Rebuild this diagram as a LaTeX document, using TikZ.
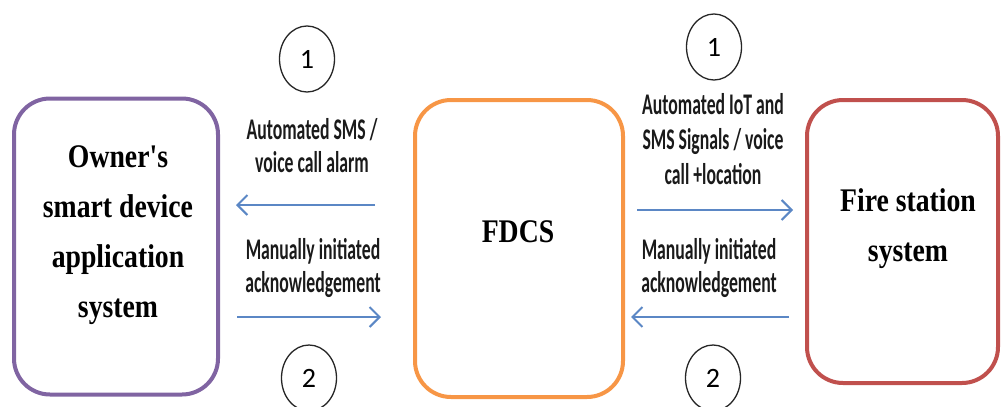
\documentclass[tikz,border=0pt]{standalone}
\usepackage{fontspec}
\usetikzlibrary{arrows.meta,shapes.geometric}
\newfontfamily\boxfont[FakeStretch=0.84]{Liberation Serif}
\newfontfamily\lblfont[FakeStretch=0.59]{Carlito}
\newfontfamily\numfont{Carlito}
\definecolor{boxpurple}{HTML}{8064A2}
\definecolor{boxorange}{HTML}{F79646}
\definecolor{boxred}{HTML}{C0504D}
\definecolor{arrowblue}{HTML}{5B87C5}
\definecolor{txtdark}{HTML}{1A1A1A}
\tikzset{
  sysbox/.style={draw, line width=4pt, rounded corners=36pt, inner sep=0pt},
  boxtext/.style={font=\boxfont\bfseries\fontsize{33}{50}\selectfont, align=center, text=black, inner sep=0pt},
  lbl/.style={font=\lblfont\bfseries\fontsize{30}{33}\selectfont, align=center, text=txtdark, inner sep=0pt},
  num/.style={draw=black!85, line width=1.3pt, ellipse, minimum width=55pt, minimum height=66pt, inner sep=0pt, font=\numfont\fontsize{28}{28}\selectfont},
  flow/.style={draw=arrowblue, line width=2pt, -{Straight Barb[length=10pt,width=20pt]}}
}
\begin{document}
\begin{tikzpicture}[x=1pt,y=-1pt]
\useasboundingbox (0,0) rectangle (1002,407);
% system boxes
\node[sysbox, draw=boxpurple, minimum width=204pt, minimum height=296pt] (owner) at (116,246.5) {};
\node[sysbox, draw=boxorange, minimum width=208pt, minimum height=297pt] (fdcs) at (519,248.5) {};
\node[sysbox, draw=boxred, minimum width=191pt, minimum height=283pt] (fire) at (902.5,241.5) {};
\node[boxtext] (ownertxt) at (118,235) {Owner's\\smart device\\application\\system};
\node[boxtext] (fdcstxt) at (518,232) {FDCS};
\node[boxtext] (firetxt) at (908,229) {Fire station\\system};
% step numbers
\node[num] (n1l) at (307,59) {1};
\node[num] (n2l) at (309,378) {2};
\node[num] (n1r) at (714,47) {1};
\node[num] (n2r) at (713,378) {2};
% labels
\node[lbl] (l1) at (312,146) {Automated SMS /\\voice call alarm};
\node[lbl] (l2) at (313,268) {Manually initiated\\acknowledgement};
\node[lbl, font=\lblfont\bfseries\fontsize{30}{35}\selectfont] (r1) at (713,139) {Automated IoT and\\SMS Signals / voice\\call +location};
\node[lbl] (r2) at (709,268) {Manually initiated\\acknowledgement};
% arrow end points
\coordinate (a1s) at (375,205);
\coordinate (a1e) at (236,205);
\coordinate (a2s) at (237,317);
\coordinate (a2e) at (381,317);
\coordinate (b1s) at (637,210);
\coordinate (b1e) at (793,210);
\coordinate (b2s) at (789,317);
\coordinate (b2e) at (631,317);
\draw[flow] (a1s) -- (a1e);
\draw[flow] (a2s) -- (a2e);
\draw[flow] (b1s) -- (b1e);
\draw[flow] (b2s) -- (b2e);
\end{tikzpicture}
\end{document}
